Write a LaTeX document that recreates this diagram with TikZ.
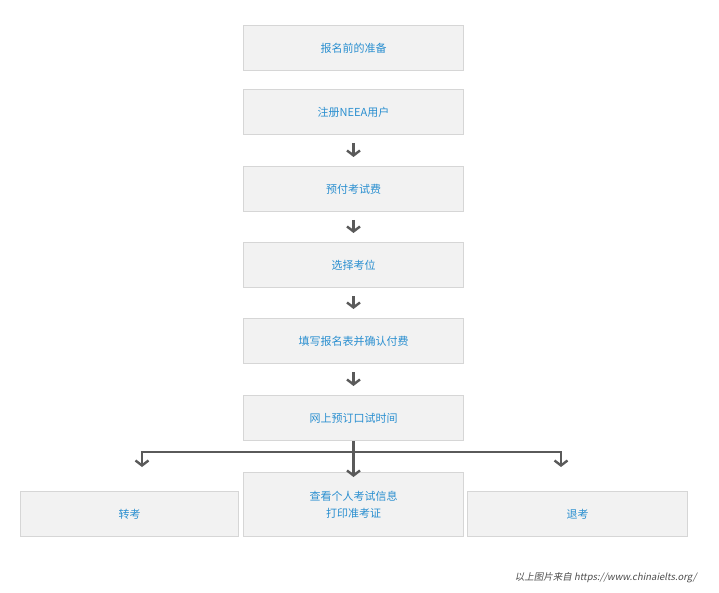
\documentclass[tikz,border=0pt]{standalone}
\usepackage{fontspec}
\setmainfont{Noto Sans CJK SC}
\newfontfamily\slantf[FakeSlant=0.2]{Noto Sans CJK SC}
\usetikzlibrary{arrows.meta}
\definecolor{txt}{HTML}{2A8FD0}
\definecolor{boxf}{HTML}{F2F2F2}
\definecolor{boxd}{HTML}{D6D6D6}
\definecolor{arr}{HTML}{5A5A5A}
\begin{document}
\begin{tikzpicture}[x=1pt,y=-1pt,
  box/.style={draw=boxd,fill=boxf,line width=1pt,minimum width=220pt,minimum height=45pt,inner sep=0pt,text=txt,font=\fontsize{11}{17}\selectfont,align=center,anchor=north west},
  ar/.style={draw=arr,line width=2.4pt,-{Straight Barb[length=5pt,width=13pt,line width=2.4pt]}}]
\useasboundingbox (0,0) rectangle (719,593);
\node[box] (b1) at (243,25) {报名前的准备};
\node[box] (b2) at (243,89) {注册NEEA用户};
\node[box] (b3) at (243,166) {预付考试费};
\node[box] (b4) at (243,242) {选择考位};
\node[box] (b5) at (243,318) {填写报名表并确认付费};
\node[box] (b6) at (243,395) {网上预订口试时间};
\node[box,minimum width=218pt] (l) at (20,491) {转考};
\node[box,minimum height=64pt] (c) at (243,472) {查看个人考试信息\\打印准考证};
\node[box] (r) at (467,491) {退考};
\foreach \a/\b in {b2/b3,b3/b4,b4/b5,b5/b6}{
  \coordinate (s) at ([yshift=-8pt]\a.south);
  \coordinate (e) at ([yshift=9pt]\b.north);
  \draw[ar] (s) -- (e);}
\coordinate (hl) at (142,452);
\coordinate (hr) at (561,452);
\draw[arr,line width=2.4pt] ([xshift=-1.2pt]hl) -- ([xshift=1.2pt]hr);
\draw[ar] (b6.south) -- ([yshift=-5pt]c.north);
\draw[ar] (hl) -- (142,467);
\draw[ar] (hr) -- (561,467);
\node[anchor=east,text=black!70,font=\fontsize{9.5}{11}\slantf] (ft) at (700,578) {以上图片来自 https://www.chinaielts.org/};
\end{tikzpicture}
\end{document}
